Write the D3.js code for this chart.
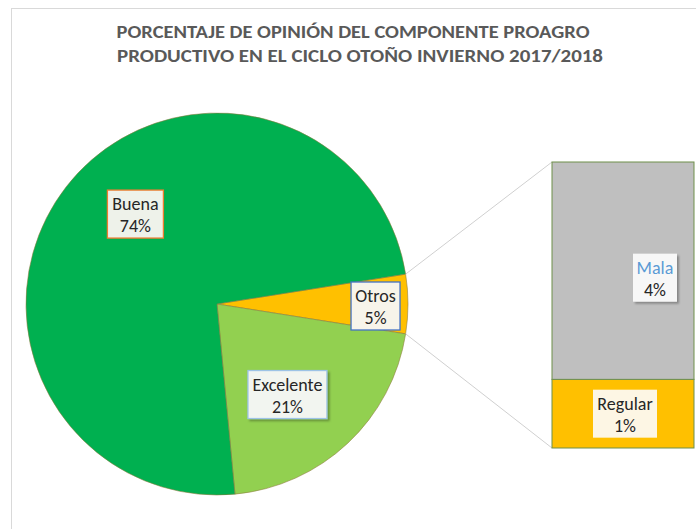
<!DOCTYPE html>
<meta charset="utf-8">
<html>
<head>
<title>Opinion PROAGRO</title>
<script src="https://cdn.jsdelivr.net/npm/d3@7"></script>
<style>
  body { margin: 0; background: #fff; }
  text { font-family: Carlito, Calibri, "Open Sans", "Liberation Sans", sans-serif; }
</style>
</head>
<body>
<script>
// pie slices (clockwise from the split-off slice)
var pieCats = ["Otros", "Excelente", "Buena"]
var pieVals = [5, 21, 74]
var pieLabels = ["5%", "21%", "74%"]
// bar that breaks down "Otros"
var barCats = ["Regular", "Mala"]
var barVals = [1.2, 3.8]
var barLabels = ["1%", "4%"]
var titleLines = ["PORCENTAJE DE OPINIÓN DEL COMPONENTE PROAGRO",
                  "PRODUCTIVO EN EL CICLO OTOÑO INVIERNO 2017/2018"]

var W = 696, H = 529
var cx = 217, cy = 304, r = 191
var pieColor = {Otros: "#ffc000", Excelente: "#92d050", Buena: "#00b050"}
var barColor = {Regular: "#ffc000", Mala: "#bfbfbf"}

var svg = d3.select("body").append("svg").attr("width", W).attr("height", H)

var defs = svg.append("defs")
var f = defs.append("filter").attr("id", "shadow").attr("x", "-20%").attr("y", "-20%").attr("width", "150%").attr("height", "150%")
f.append("feDropShadow").attr("dx", 2).attr("dy", 2).attr("stdDeviation", 1.2).attr("flood-color", "#000").attr("flood-opacity", 0.3)

// chart frame
svg.append("rect").attr("x", 11.5).attr("y", 8.5).attr("width", 800).attr("height", 700)
   .attr("fill", "#fff").attr("stroke", "#d9d9d9").attr("stroke-width", 1)

// title
svg.selectAll("text.title").data(titleLines).enter().append("text")
   .attr("class", "title")
   .attr("x", (d, i) => i == 0 ? 353 : 360)
   .attr("y", (d, i) => 38 + i * 24)
   .attr("text-anchor", "middle")
   .attr("fill", "#595959").attr("font-weight", "bold").attr("font-size", "17px")
   .attr("textLength", (d, i) => i == 0 ? 473 : 486)
   .attr("lengthAdjust", "spacingAndGlyphs")
   .text(d => d)

// pie: split slice centred on 3 o'clock
var startA = Math.PI / 2 - (pieVals[0] / d3.sum(pieVals)) * Math.PI
var pie = d3.pie().sort(null).startAngle(startA).endAngle(startA + 2 * Math.PI)
var arcs = pie(pieVals)
arcs.forEach((a, i) => { a.cat = pieCats[i]; a.lab = pieLabels[i] })
var arc = d3.arc().innerRadius(0).outerRadius(r)

var g = svg.append("g").attr("transform", `translate(${cx},${cy})`)

// connector lines from the split slice to the bar
var y = d3.scaleLinear().domain([0, d3.sum(barVals)]).range([448, 162])
var barX = 552, barW = 142
var oth = arcs[0]
var p0 = [cx + r * Math.sin(oth.startAngle), cy - r * Math.cos(oth.startAngle)]
var p1 = [cx + r * Math.sin(oth.endAngle), cy - r * Math.cos(oth.endAngle)]
svg.append("line").attr("x1", p0[0]).attr("y1", p0[1]).attr("x2", barX).attr("y2", y(d3.sum(barVals)))
   .attr("stroke", "#d0d0d0").attr("stroke-width", 1)
svg.append("line").attr("x1", p1[0]).attr("y1", p1[1]).attr("x2", barX).attr("y2", y(0))
   .attr("stroke", "#d0d0d0").attr("stroke-width", 1)

g.selectAll("path.slice").data(arcs).enter().append("path")
   .attr("class", "slice")
   .attr("d", arc)
   .attr("fill", d => pieColor[d.cat])
   .attr("stroke", "#8c7a3c").attr("stroke-width", 0.8).attr("stroke-opacity", 0.7)

// stacked bar
var stackStart = [0]
barVals.forEach((v, i) => stackStart.push(stackStart[i] + v))
var bars = barCats.map((c, i) => ({cat: c, v0: stackStart[i], v1: stackStart[i + 1], lab: barLabels[i]}))
svg.selectAll("rect.bar").data(bars).enter().append("rect")
   .attr("class", "bar")
   .attr("x", barX).attr("width", barW)
   .attr("y", d => y(d.v1)).attr("height", d => y(d.v0) - y(d.v1))
   .attr("fill", d => barColor[d.cat])
   .attr("stroke", "#6f8f4a").attr("stroke-width", 1)

// data labels
function label(x, yc, w, name, pct, st) {
  var lg = svg.append("g")
  lg.append("rect").attr("x", x - w / 2).attr("y", yc - 24).attr("width", w).attr("height", 48)
    .attr("fill", st.fill).attr("stroke", st.stroke || "none").attr("stroke-width", 1.3)
    .attr("filter", st.shadow ? "url(#shadow)" : null)
  lg.append("text").attr("x", x).attr("y", yc - 4).attr("text-anchor", "middle")
    .attr("font-size", "18px").attr("fill", st.nameColor || "#262626").text(name)
  lg.append("text").attr("x", x).attr("y", yc + 18).attr("text-anchor", "middle")
    .attr("font-size", "18px").attr("fill", "#262626").text(pct)
}

var pieLabelLayout = {
  Buena: {rf: 0.64, dx: 15, dy: -15, w: 56, fill: "#eef2ea", stroke: "#ed7d31"},
  Excelente: {rf: 0.6, dx: -8, dy: 7, w: 79, fill: "#f2f5f0", stroke: "#9dc3e6", shadow: true},
  Otros: {rf: 0.83, dx: 0, dy: 2, w: 49, fill: "#f7f4ea", stroke: "#4472c4"}
}
arcs.forEach(a => {
  var L = pieLabelLayout[a.cat]
  var m = (a.startAngle + a.endAngle) / 2
  var lx = cx + L.rf * r * Math.sin(m) + L.dx
  var ly = cy - L.rf * r * Math.cos(m) + L.dy
  label(lx, ly, L.w, a.cat, a.lab, L)
})

var barLabelLayout = {
  Regular: {dx: 73, dy: 0, w: 64, fill: "#fdf6e4"},
  Mala: {dx: 103, dy: 7, w: 44, fill: "#f7f7f7", shadow: true, nameColor: "#5b9bd5"}
}
bars.forEach(b => {
  var L = barLabelLayout[b.cat]
  label(barX + L.dx, (y(b.v0) + y(b.v1)) / 2 + L.dy, L.w, b.cat, b.lab, L)
})
</script>
</body>
</html>
